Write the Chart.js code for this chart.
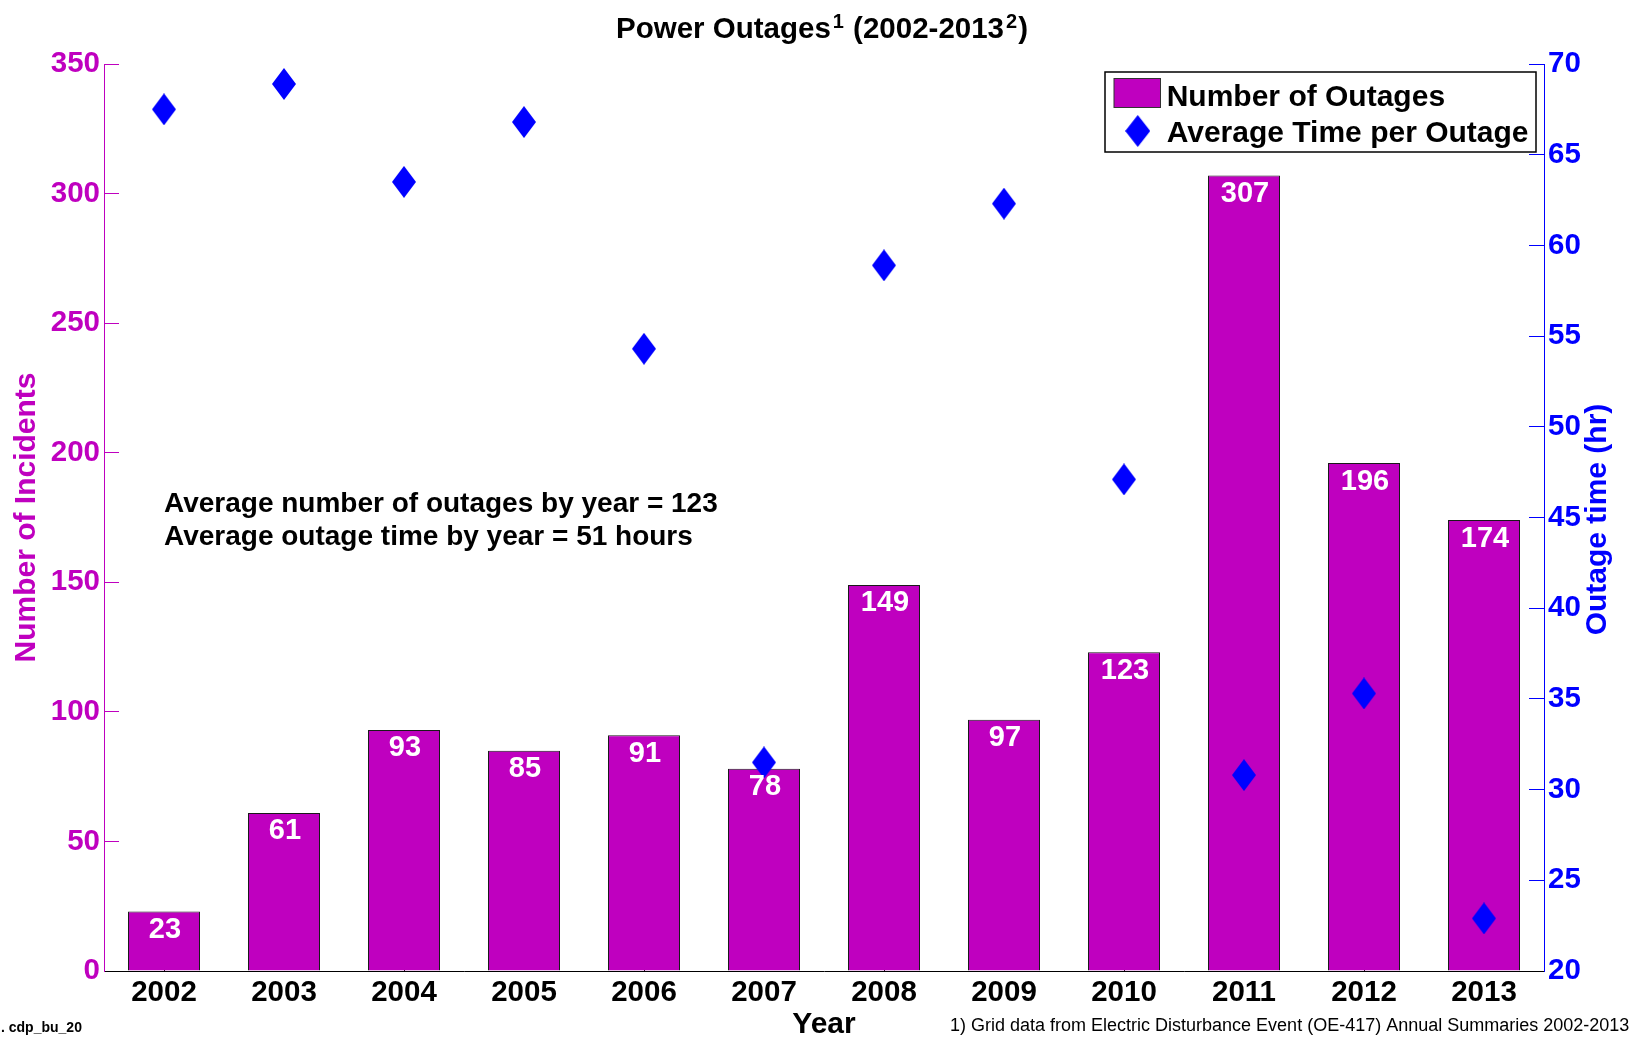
<!DOCTYPE html>
<html>
<head>
<meta charset="utf-8">
<script src="https://cdn.jsdelivr.net/npm/chart.js@4.4.1/dist/chart.umd.min.js"></script>
<style>
html,body{margin:0;padding:0;background:#fff;}
canvas{display:block;}
</style>
</head>
<body>
<canvas id="c" width="1631" height="1038"></canvas>
<script>
// ---- data ----
const years = ['2002','2003','2004','2005','2006','2007','2008','2009','2010','2011','2012','2013'];
const outages = [23, 61, 93, 85, 91, 78, 149, 97, 123, 307, 196, 174];
const avgHours = [67.5, 68.9, 63.5, 66.8, 54.3, 31.5, 58.9, 62.3, 47.1, 30.8, 35.3, 22.9];
const countRange = [0, 350, 50];
const hoursRange = [20, 70, 5];
const seriesNames = ['Number of Outages', 'Average Time per Outage'];
// title parts: [text, isSuperscript]
const titleParts = [['Power Outages', false], ['1', true], [' (2002-2013', false], ['2', true], [')', false]];
const leftTitle = 'Number of Incidents';
const rightTitle = 'Outage time (hr)';
const xTitle = 'Year';
const notes = ['Average number of outages by year = 123', 'Average outage time by year = 51 hours'];
const footnote = '1) Grid data from Electric Disturbance Event (OE-417) Annual Summaries 2002-2013';
const figId = '. cdp_bu_20';

// ---- styles ----
const FONT = "'Liberation Sans', Arial, Helvetica, sans-serif";
const MAG = '#BF00BF';
const BLUE = '#0000FF';

function diamond(w, h, color) {
  const c = document.createElement('canvas');
  c.width = w; c.height = h;
  const g = c.getContext('2d');
  g.fillStyle = color;
  g.beginPath();
  g.moveTo(w / 2, 0); g.lineTo(w, h / 2); g.lineTo(w / 2, h); g.lineTo(0, h / 2);
  g.closePath(); g.fill();
  return c;
}
const diamondImg = diamond(24, 32, BLUE);
const legendDiamond = diamond(25, 32, BLUE);

const overlay = {
  id: 'overlay',
  afterDatasetsDraw(chart) {
    const ctx = chart.ctx;
    const meta = chart.getDatasetMeta(0);
    ctx.save();
    ctx.font = `bold 29px ${FONT}`;
    ctx.fillStyle = '#fff';
    ctx.textAlign = 'center';
    ctx.textBaseline = 'alphabetic';
    meta.data.forEach((el, i) => ctx.fillText(String(outages[i]), el.x + 1, el.y + 26.5));
    ctx.restore();
  },
  afterDraw(chart) {
    const ctx = chart.ctx;
    const a = chart.chartArea;
    ctx.save();
    ctx.textBaseline = 'alphabetic';
    // title with superscripts
    const mainF = `bold 29.5px ${FONT}`, supF = `bold 20px ${FONT}`;
    let total = 0;
    const widths = titleParts.map(([t, sup]) => {
      ctx.font = sup ? supF : mainF;
      const w = ctx.measureText(t).width + (sup ? 3 : 0);
      total += w;
      return w;
    });
    let tx = (a.left + a.right) / 2 - 2 - total / 2;
    ctx.fillStyle = '#000';
    ctx.textAlign = 'left';
    titleParts.forEach(([t, sup], i) => {
      ctx.font = sup ? supF : mainF;
      ctx.fillText(t, sup ? tx + 2 : tx, sup ? 27.5 : 38);
      tx += widths[i];
    });
    // legend box
    const bx = a.right - 439, by = a.top + 8, bw = 431, bh = 80;
    ctx.fillStyle = '#fff';
    ctx.fillRect(bx, by, bw, bh);
    ctx.strokeStyle = '#000';
    ctx.lineWidth = 1.5;
    ctx.strokeRect(bx, by, bw, bh);
    const ds = chart.data.datasets;
    ctx.fillStyle = ds[0].backgroundColor;
    ctx.fillRect(bx + 9, by + 6.5, 46.5, 29);
    ctx.strokeStyle = '#333';
    ctx.lineWidth = 1;
    ctx.strokeRect(bx + 9, by + 6.5, 46.5, 29);
    ctx.drawImage(legendDiamond, bx + 32.7 - 12.5, by + 59 - 16);
    ctx.font = `bold 30px ${FONT}`;
    ctx.fillStyle = '#000';
    ctx.textAlign = 'left';
    ctx.fillText(ds[0].label, bx + 61.7, by + 33.5);
    ctx.fillText(ds[1].label, bx + 61.7, by + 70);
    // notes
    ctx.font = `bold 28px ${FONT}`;
    const nx = chart.scales.x.getPixelForValue(0);
    ctx.fillText(notes[0], nx, 512);
    ctx.fillText(notes[1], nx, 545);
    // right axis title (reads bottom to top)
    ctx.save();
    ctx.translate(a.right + 54, (a.top + a.bottom) / 2 + 2);
    ctx.rotate(-Math.PI / 2);
    ctx.font = `bold 30px ${FONT}`;
    ctx.fillStyle = BLUE;
    ctx.textAlign = 'center';
    ctx.textBaseline = 'middle';
    ctx.fillText(rightTitle, 0, 0);
    ctx.restore();
    // footnote
    ctx.font = `18px ${FONT}`;
    ctx.fillStyle = '#000';
    ctx.textAlign = 'left';
    ctx.fillText(footnote, 950, 1031);
    ctx.font = `bold 14px ${FONT}`;
    ctx.fillText(figId, 1, 1032);
    ctx.restore();
  }
};

const tickFont = {family: FONT, size: 29.5, weight: 'bold'};

new Chart(document.getElementById('c'), {
  type: 'bar',
  data: {
    labels: years,
    datasets: [
      {
        type: 'bar', label: seriesNames[0], data: outages,
        backgroundColor: MAG, borderColor: '#1a1a1a', borderWidth: 1,
        barPercentage: 0.6, categoryPercentage: 1, yAxisID: 'y', order: 2
      },
      {
        type: 'line', label: seriesNames[1], data: avgHours, showLine: false,
        pointStyle: diamondImg, pointRadius: 12, pointHoverRadius: 12,
        backgroundColor: BLUE, borderColor: BLUE, yAxisID: 'y1', order: 1
      }
    ]
  },
  options: {
    responsive: false,
    animation: false,
    devicePixelRatio: 1,
    layout: {padding: {top: 64, left: 0, right: 0, bottom: 0}},
    plugins: {
      legend: {display: false},
      tooltip: {enabled: false},
      title: {display: false}
    },
    scales: {
      x: {
        type: 'category', offset: true, z: 1,
        grid: {
          display: true, drawOnChartArea: false, offset: false, tickLength: -14, tickWidth: 1,
          tickColor: c => (c.index % 2 === 0 ? '#000' : 'rgba(0,0,0,0)')
        },
        border: {display: true, color: '#000', width: 1},
        ticks: {color: '#000', font: tickFont, padding: 18.3, maxRotation: 0, autoSkip: false},
        title: {
          display: true, text: xTitle, color: '#000',
          font: {family: FONT, size: 30, weight: 'bold', lineHeight: 1},
          padding: {top: 0, bottom: -1.5}
        },
        afterFit: s => { s.height = 67; }
      },
      y: {
        position: 'left', min: countRange[0], max: countRange[1], z: 1,
        ticks: {stepSize: countRange[2], color: MAG, font: tickFont, padding: 19},
        grid: {drawOnChartArea: false, tickLength: -15, tickColor: MAG, tickWidth: 1},
        border: {display: true, color: MAG, width: 1},
        title: {
          display: true, text: leftTitle, color: MAG,
          font: {family: FONT, size: 30, weight: 'bold', lineHeight: 1},
          padding: {top: 11.5, bottom: 0}
        },
        afterFit: s => { s.width = 104; }
      },
      y1: {
        position: 'right', min: hoursRange[0], max: hoursRange[1], z: 1,
        ticks: {stepSize: hoursRange[2], color: BLUE, font: tickFont, padding: 19},
        grid: {drawOnChartArea: false, tickLength: -15, tickColor: BLUE, tickWidth: 1},
        border: {display: true, color: BLUE, width: 1},
        afterFit: s => { s.width = 87; }
      }
    }
  },
  plugins: [overlay]
});
</script>
</body>
</html>
